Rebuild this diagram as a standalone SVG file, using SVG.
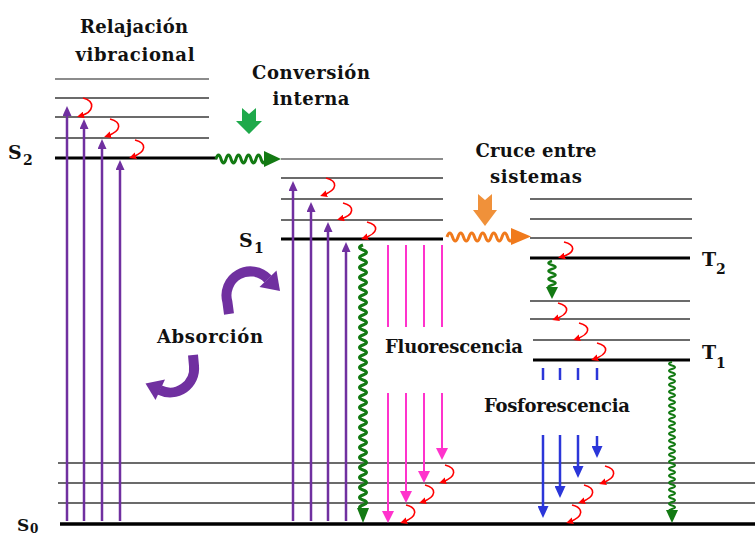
<svg xmlns="http://www.w3.org/2000/svg" width="755" height="536" viewBox="0 0 755 536">
<style>
.lv{stroke:#3a3a3a;stroke-width:1.6;fill:none}
.lg{stroke:#666;stroke-width:1.6;fill:none}
.th{stroke:#000;stroke-width:3.2;fill:none}
.pu{stroke:#7030a0;stroke-width:2.5;fill:none;marker-end:url(#mPu)}
.pk{stroke:#ff33cc;stroke-width:2;fill:none}
.pka{stroke:#ff33cc;stroke-width:2;fill:none;marker-end:url(#mPk)}
.bl{stroke:#2b36d9;stroke-width:2.5;fill:none}
.bla{stroke:#2b36d9;stroke-width:2.5;fill:none;marker-end:url(#mBl)}
.rc{stroke:#ff0000;stroke-width:1.6;fill:none;marker-end:url(#mRd)}
.gw{stroke:#137a13;fill:none}
.ow{stroke:#f07a1c;stroke-width:3;fill:none}
.cv{stroke:#7030a0;stroke-width:10;fill:none}
text{font-family:"DejaVu Serif","Liberation Serif",serif;font-weight:bold;fill:#111}
.t{font-size:18px}
.sb{font-size:14px}
</style>
<defs>
<marker id="mPu" viewBox="0 0 10 9" refX="2" refY="4.5" markerWidth="10" markerHeight="9" markerUnits="userSpaceOnUse" orient="auto"><path d="M0,0L10,4.5L0,9z" fill="#7030a0"/></marker>
<marker id="mPk" viewBox="0 0 12 12" refX="2" refY="6" markerWidth="12" markerHeight="12" markerUnits="userSpaceOnUse" orient="auto"><path d="M0,0L12,6L0,12z" fill="#ff33cc"/></marker>
<marker id="mBl" viewBox="0 0 12 11" refX="2" refY="5.5" markerWidth="12" markerHeight="11" markerUnits="userSpaceOnUse" orient="auto"><path d="M0,0L12,5.5L0,11z" fill="#2b36d9"/></marker>
<marker id="mRd" viewBox="0 0 7 7" refX="4" refY="3.5" markerWidth="7" markerHeight="7" markerUnits="userSpaceOnUse" orient="auto"><path d="M0,0L7,3.5L0,7z" fill="#ff0000"/></marker>
</defs>

<g id="S2">
<line class="lg" x1="55" y1="79" x2="209" y2="79"/>
<line class="lv" x1="55" y1="98" x2="209" y2="98"/>
<line class="lv" x1="55" y1="117" x2="209" y2="117"/>
<line class="lv" x1="55" y1="138" x2="209" y2="138"/>
<line class="th" x1="55" y1="158" x2="217" y2="158"/>
<text class="t" x="8" y="159" style="font-size:19px">S</text><text class="sb" x="23" y="165">2</text>
</g>

<g id="S1">
<line class="lg" x1="281" y1="159" x2="443" y2="159"/>
<line class="lv" x1="281" y1="178" x2="443" y2="178"/>
<line class="lv" x1="281" y1="199" x2="443" y2="199"/>
<line class="lv" x1="281" y1="220" x2="443" y2="220"/>
<line class="th" x1="281" y1="239" x2="443" y2="239"/>
<text class="t" x="239" y="247" style="font-size:19px">S</text><text class="sb" x="254" y="253">1</text>
</g>

<g id="T2">
<line class="lv" x1="530" y1="199" x2="692" y2="199"/>
<line class="lv" x1="530" y1="219" x2="692" y2="219"/>
<line class="lv" x1="530" y1="238" x2="692" y2="238"/>
<line class="th" x1="530" y1="258" x2="690" y2="258"/>
<text class="t" x="702" y="266" style="font-size:19px">T</text><text class="sb" x="716" y="274">2</text>
</g>

<g id="T1">
<line class="lv" x1="530" y1="301" x2="690" y2="301"/>
<line class="lv" x1="530" y1="319" x2="690" y2="319"/>
<line class="lv" x1="533" y1="340" x2="690" y2="340"/>
<line class="th" x1="533" y1="360" x2="690" y2="360"/>
<text class="t" x="702" y="359" style="font-size:19px">T</text><text class="sb" x="716" y="368">1</text>
</g>

<g id="S0">
<line class="lv" x1="58" y1="463" x2="755" y2="463"/>
<line class="lv" x1="58" y1="483" x2="755" y2="483"/>
<line class="lv" x1="58" y1="503" x2="755" y2="503"/>
<line class="th" x1="60" y1="524" x2="755" y2="524" style="stroke-width:3.5"/>
<text class="t" x="17" y="531" style="font-size:17px">S</text><text class="sb" x="30" y="533" style="font-size:12px">0</text>
</g>

<g id="labels">
<text class="t" x="134" y="33" text-anchor="middle" textLength="108">Relajación</text>
<text class="t" x="135" y="61" text-anchor="middle" textLength="119">vibracional</text>
<text class="t" x="311" y="79" text-anchor="middle" textLength="118">Conversión</text>
<text class="t" x="311" y="105" text-anchor="middle" textLength="77">interna</text>
<text class="t" x="536" y="157" text-anchor="middle" textLength="121">Cruce entre</text>
<text class="t" x="536" y="183" text-anchor="middle" textLength="92">sistemas</text>
<text class="t" x="157" y="343" textLength="106">Absorción</text>
<text class="t" x="385" y="353" textLength="138">Fluorescencia</text>
<text class="t" x="484" y="412" textLength="146">Fosforescencia</text>
</g>

<g id="connectors">
<line class="pu" x1="67" y1="521" x2="67" y2="114"/>
<line class="pu" x1="84" y1="521" x2="84" y2="127"/>
<line class="pu" x1="102" y1="521" x2="102" y2="147"/>
<line class="pu" x1="120" y1="521" x2="120" y2="168"/>
<line class="pu" x1="293" y1="521" x2="293" y2="189"/>
<line class="pu" x1="311" y1="521" x2="311" y2="210"/>
<line class="pu" x1="328" y1="521" x2="328" y2="230"/>
<line class="pu" x1="346" y1="521" x2="346" y2="250"/>

<path class="rc" d="M83,98 C95,101 95,112 80,116"/>
<path class="rc" d="M110,119 C122,122 122,131 107,136"/>
<path class="rc" d="M135,140 C147,143 147,152 132,157"/>
<path class="rc" d="M326,178 C338,181 338,190 323,195"/>
<path class="rc" d="M343,203 C355,206 355,215 340,219"/>
<path class="rc" d="M367,222 C379,225 379,233 364,238"/>
<path class="rc" d="M564,242 C576,245 576,253 561,257"/>
<path class="rc" d="M558,303 C570,306 570,314 555,319"/>
<path class="rc" d="M579,323 C591,326 591,334 576,339"/>
<path class="rc" d="M597,343 C609,346 609,354 594,359"/>
<path class="rc" d="M445,465 C457,468 457,477 442,482"/>
<path class="rc" d="M425,485 C437,488 437,497 422,502"/>
<path class="rc" d="M406,505 C418,508 418,517 403,522"/>
<path class="rc" d="M605,466 C617,469 617,478 602,483"/>
<path class="rc" d="M584,485 C596,488 596,497 581,502"/>
<path class="rc" d="M572,505 C584,508 584,517 569,522"/>

<path class="gw" style="stroke-width:3" d="M216,159 q2.5,-8 5,0 t5,0 t5,0 t5,0 t5,0 t5,0 t5,0 t5,0 t5,0 t5,0"/>
<polygon points="264,151 281,159 264,167" fill="#137a13"/>
<polygon points="242,108 249,114 256,108 256,121 262,121 249,134 236,121 242,121" fill="#1fa94b"/>

<path class="ow" d="M447,237 q2.75,-8 5.5,0 t5.5,0 t5.5,0 t5.5,0 t5.5,0 t5.5,0 t5.5,0 t5.5,0 t5.5,0 t5.5,0 t5.5,0 t5.5,0"/>
<polygon points="511,228 531,236.5 511,245" fill="#f07a1c"/>
<polygon points="478,194 485,200 492,194 492,210 497,210 485,226 473,210 478,210" fill="#f0913a"/>

<path class="gw" style="stroke-width:3" d="M363,245 q-7,2.5 0,5 t0,5 t0,5 t0,5 t0,5 t0,5 t0,5 t0,5 t0,5 t0,5 t0,5 t0,5 t0,5 t0,5 t0,5 t0,5 t0,5 t0,5 t0,5 t0,5 t0,5 t0,5 t0,5 t0,5 t0,5 t0,5 t0,5 t0,5 t0,5 t0,5 t0,5 t0,5 t0,5 t0,5 t0,5 t0,5 t0,5 t0,5 t0,5 t0,5 t0,5 t0,5 t0,5 t0,5 t0,5 t0,5 t0,5 t0,5 t0,5 t0,5 t0,5 t0,5 t0,5"/>
<polygon points="357,508 363,523 369,508" fill="#137a13"/>

<path class="gw" style="stroke-width:2.5" d="M552,261 q-7,2 0,4 t0,4 t0,4 t0,4 t0,4 t0,4 t0,4"/>
<polygon points="546,287 552,299 558,287" fill="#137a13"/>

<path class="gw" style="stroke-width:2" d="M672,362 q-6,1.75 0,3.5 t0,3.5 t0,3.5 t0,3.5 t0,3.5 t0,3.5 t0,3.5 t0,3.5 t0,3.5 t0,3.5 t0,3.5 t0,3.5 t0,3.5 t0,3.5 t0,3.5 t0,3.5 t0,3.5 t0,3.5 t0,3.5 t0,3.5 t0,3.5 t0,3.5 t0,3.5 t0,3.5 t0,3.5 t0,3.5 t0,3.5 t0,3.5 t0,3.5 t0,3.5 t0,3.5 t0,3.5 t0,3.5 t0,3.5 t0,3.5 t0,3.5 t0,3.5 t0,3.5 t0,3.5 t0,3.5 t0,3.5 t0,3.5 t0,3.5"/>
<polygon points="666,510 672,523 678,510" fill="#137a13"/>

<line class="pk" x1="388" y1="245" x2="388" y2="327"/>
<line class="pk" x1="406" y1="245" x2="406" y2="327"/>
<line class="pk" x1="424" y1="245" x2="424" y2="327"/>
<line class="pk" x1="442" y1="245" x2="442" y2="327"/>
<line class="pka" x1="388" y1="393" x2="388" y2="513"/>
<line class="pka" x1="406" y1="393" x2="406" y2="493"/>
<line class="pka" x1="424" y1="393" x2="424" y2="473"/>
<line class="pka" x1="442" y1="393" x2="442" y2="450"/>

<line class="bl" x1="543" y1="368" x2="543" y2="380"/>
<line class="bl" x1="560" y1="368" x2="560" y2="380"/>
<line class="bl" x1="578" y1="368" x2="578" y2="380"/>
<line class="bl" x1="597" y1="368" x2="597" y2="380"/>
<line class="bla" x1="543" y1="435" x2="543" y2="508"/>
<line class="bla" x1="560" y1="435" x2="560" y2="488"/>
<line class="bla" x1="578" y1="435" x2="578" y2="468"/>
<line class="bla" x1="597" y1="436" x2="597" y2="448"/>

<path class="cv" d="M229,314 L227.4,302 A24,24 0 0 1 268,279"/>
<polygon points="259.5,287 280,291 276.5,270.5" fill="#7030a0"/>
<path class="cv" d="M193,355 L194,366 A24,24 0 0 1 159.6,390"/>
<polygon points="165,379.5 145.5,383.5 155.5,400" fill="#7030a0"/>
</g>
</svg>
